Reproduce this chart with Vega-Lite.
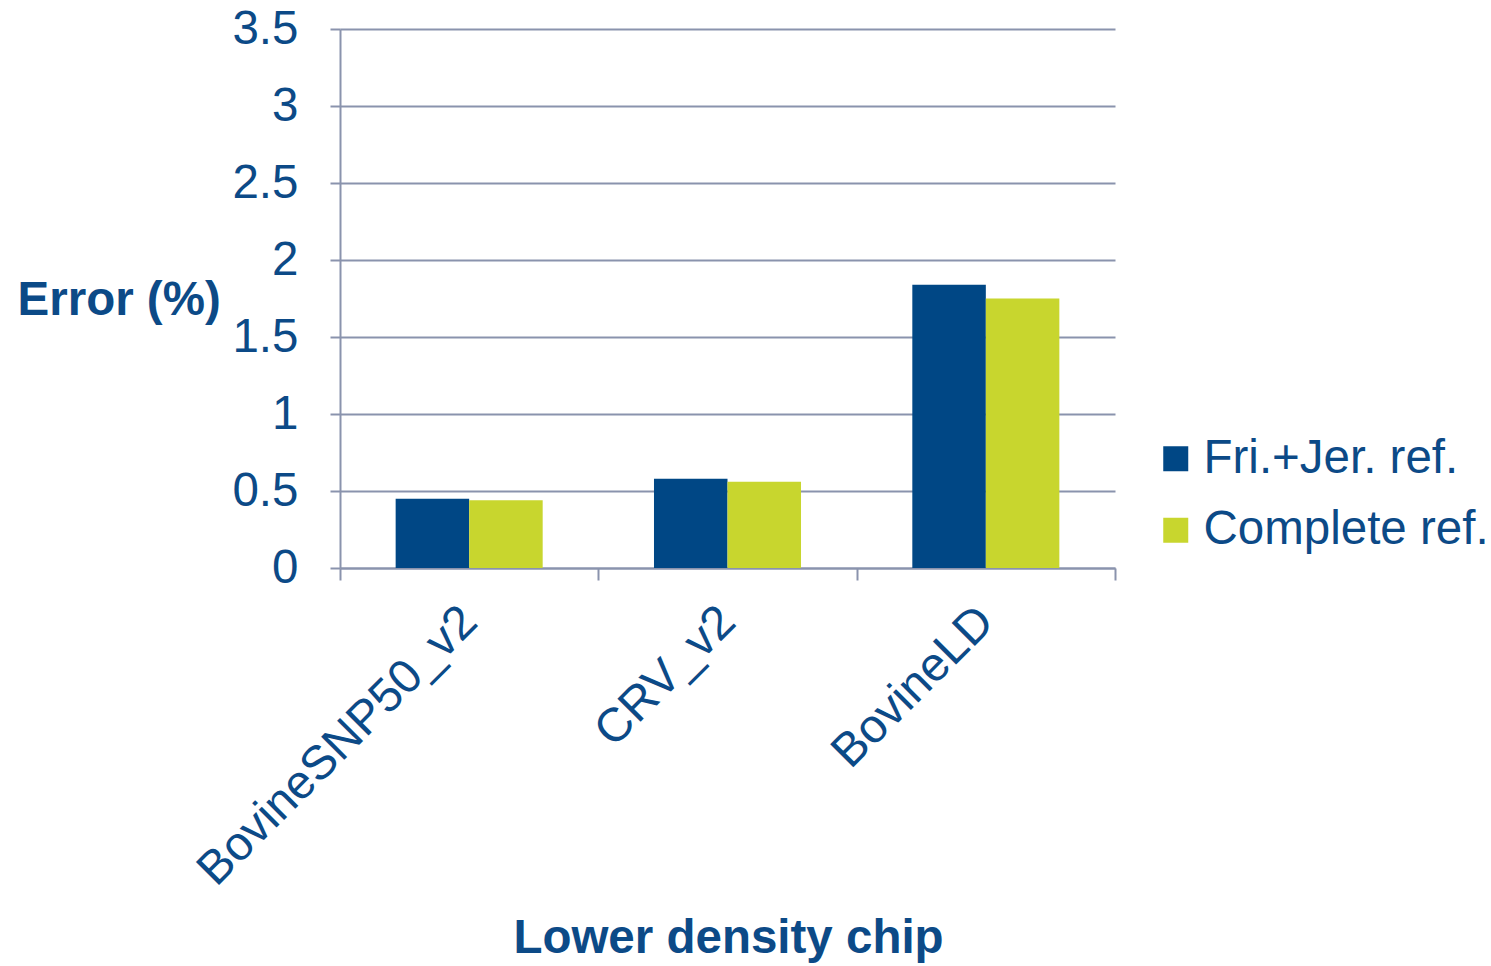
{
  "$schema": "https://vega.github.io/schema/vega-lite/v6.json",
  "width": 775,
  "height": 539,
  "autosize": "none",
  "padding": {"left": 340, "top": 29, "right": 376, "bottom": 398},
  "background": "white",
  "data": {
    "values": [
      {"chip": "BovineSNP50_v2", "ref": "Fri.+Jer. ref.", "error": 0.45},
      {"chip": "BovineSNP50_v2", "ref": "Complete ref.", "error": 0.44},
      {"chip": "CRV_v2", "ref": "Fri.+Jer. ref.", "error": 0.58},
      {"chip": "CRV_v2", "ref": "Complete ref.", "error": 0.56},
      {"chip": "BovineLD", "ref": "Fri.+Jer. ref.", "error": 1.84},
      {"chip": "BovineLD", "ref": "Complete ref.", "error": 1.75}
    ]
  },
  "config": {
    "view": {"stroke": null},
    "font": "Liberation Sans",
    "axis": {
      "labelFont": "Liberation Sans",
      "titleFont": "Liberation Sans",
      "labelColor": "#0c4a87",
      "titleColor": "#0c4a87",
      "domainColor": "#8a93ad",
      "tickColor": "#8a93ad",
      "gridColor": "#8a93ad",
      "domainWidth": 2,
      "tickWidth": 2,
      "gridWidth": 2,
      "gridOpacity": 1
    }
  },
  "mark": {"type": "bar"},
  "encoding": {
    "x": {
      "field": "chip",
      "type": "nominal",
      "sort": ["BovineSNP50_v2", "CRV_v2", "BovineLD"],
      "scale": {"paddingInner": 0, "paddingOuter": 0},
      "axis": {
        "title": "Lower density chip",
        "titleFontSize": 47.5,
        "titleFontWeight": "bold",
        "titleX": 388,
        "titleY": 370,
        "titleBaseline": "middle",
        "titleAlign": "center",
        "labelFontSize": 47.5,
        "labelAngle": -45,
        "labelAlign": "right",
        "labelBaseline": "middle",
        "labelPadding": 34,
        "tickBand": "extent",
        "tickSize": 12,
        "grid": false,
        "labelLimit": 1000
      }
    },
    "xOffset": {
      "field": "ref",
      "type": "nominal",
      "sort": ["Fri.+Jer. ref.", "Complete ref."],
      "scale": {"paddingInner": 0, "paddingOuter": 0.757}
    },
    "y": {
      "field": "error",
      "type": "quantitative",
      "scale": {"domain": [0, 3.5], "nice": false},
      "axis": {
        "title": "Error (%)",
        "titleAngle": 0,
        "titleFontSize": 47.5,
        "titleFontWeight": "bold",
        "titleX": -323,
        "titleY": 271,
        "titleAlign": "left",
        "titleBaseline": "middle",
        "values": [0, 0.5, 1, 1.5, 2, 2.5, 3, 3.5],
        "format": "~g",
        "labelFontSize": 47.5,
        "labelPadding": 32,
        "tickSize": 10,
        "grid": true,
        "domain": true
      }
    },
    "color": {
      "field": "ref",
      "type": "nominal",
      "sort": ["Fri.+Jer. ref.", "Complete ref."],
      "scale": {"domain": ["Fri.+Jer. ref.", "Complete ref."], "range": ["#004785", "#c8d62e"]},
      "legend": {
        "title": null,
        "orient": "none",
        "legendX": 812,
        "legendY": 406,
        "symbolType": "square",
        "symbolSize": 625,
        "symbolStrokeWidth": 0,
        "labelFontSize": 47.5,
        "labelFont": "Liberation Sans",
        "labelColor": "#0c4a87",
        "labelOffset": 4,
        "rowPadding": 22.5,
        "labelLimit": 1000
      }
    }
  }
}
